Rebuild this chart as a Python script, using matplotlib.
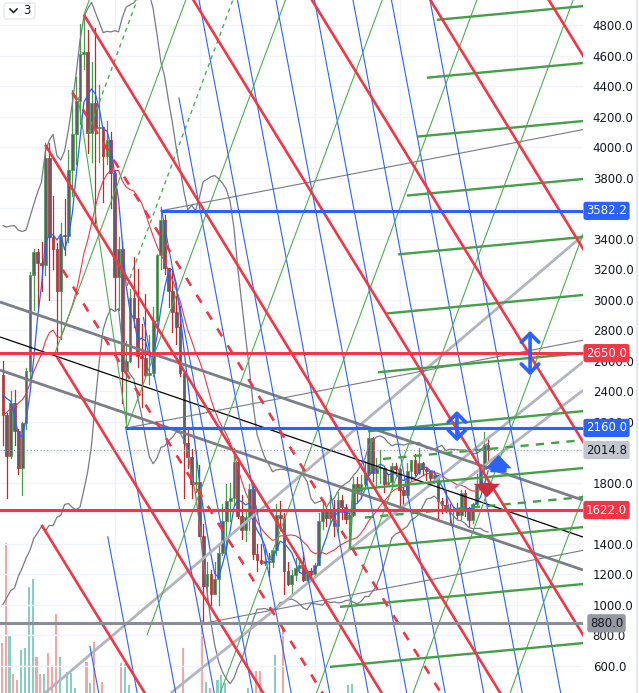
import numpy as np
import pandas as pd
import matplotlib
matplotlib.use("Agg")
import matplotlib.pyplot as plt
import matplotlib.transforms as mtransforms
from matplotlib.patches import Rectangle, FancyBboxPatch, FancyArrowPatch
from matplotlib.lines import Line2D

# ---------------- data (weekly candles, index 0 = first visible week) ----------------
warmup_close = [1315, 1615, 1800, 1935, 1420, 1725, 1795, 1810, 1690, 2080,
                2140, 2240, 2310, 2950, 3910, 3580, 2100, 2400, 2630, 2510]

opens = [2510, 2245, 1975, 2320, 2140, 1895, 2190, 2530, 3160, 3310,
         3240, 3225, 3930, 3410, 3330, 3060, 3420, 3415, 3850, 4085,
         4300, 4610, 4620, 4090, 4290, 4125, 4135, 3940, 4045, 3830,
         3150, 3330, 2530, 2600, 3010, 2880, 2630, 2620, 2510, 2520,
         2860, 3290, 3520, 3210, 3060, 2920, 2820, 2520, 2060, 1970,
         1790, 1805, 1455, 1125, 1200, 1070, 1170, 1340, 1550, 1680,
         1700, 1935, 1580, 1490, 1575, 1760, 1335, 1295, 1275, 1290,
         1280, 1360, 1590, 1570, 1220, 1140, 1195, 1245, 1265, 1165,
         1220, 1200, 1265, 1550, 1630, 1570, 1630, 1515, 1690, 1640,
         1565, 1590, 1790, 1745, 1795, 1860, 2095, 1865, 1895, 1900,
         1795, 1805, 1910, 1890, 1750, 1720, 1875, 1950, 1865, 1930,
         1890, 1880, 1830, 1850, 1680, 1655, 1630, 1615, 1625, 1590,
         1735, 1635, 1555, 1660, 1780, 1890, 2050]
closes = [2245, 1975, 2320, 2140, 1895, 2190, 2530, 3160, 3310, 3240,
          3225, 3930, 3410, 3330, 3060, 3420, 3415, 3850, 4085, 4300,
          4610, 4620, 4090, 4290, 4125, 4135, 3940, 4045, 3830, 3150,
          3330, 2530, 2600, 3010, 2880, 2630, 2620, 2510, 2520, 2860,
          3290, 3520, 3210, 3060, 2920, 2820, 2520, 2060, 1970, 1790,
          1805, 1455, 1125, 1200, 1070, 1170, 1340, 1550, 1680, 1700,
          1935, 1580, 1490, 1575, 1760, 1335, 1295, 1275, 1290, 1280,
          1360, 1590, 1570, 1220, 1140, 1195, 1245, 1265, 1165, 1220,
          1200, 1265, 1550, 1630, 1570, 1630, 1515, 1690, 1640, 1565,
          1590, 1790, 1745, 1795, 1860, 2095, 1865, 1895, 1900, 1795,
          1805, 1910, 1890, 1750, 1720, 1875, 1950, 1865, 1930, 1890,
          1880, 1830, 1850, 1680, 1655, 1630, 1615, 1625, 1590, 1735,
          1635, 1555, 1660, 1780, 1890, 2050, 2015]
highs = [2600, 2260, 2400, 2410, 2150, 2200, 2550, 3180, 3330, 3335,
         3380, 4030, 4030, 3680, 3370, 3500, 3660, 3980, 4375, 4460,
         4810, 4868, 4770, 4560, 4780, 4410, 4135, 4170, 4100, 3850,
         3410, 3380, 2730, 3070, 3280, 3200, 2840, 3040, 2770, 2950,
         3300, 3582, 3555, 3210, 3190, 3025, 2960, 2520, 2160, 2020,
         2010, 1920, 1530, 1280, 1230, 1280, 1390, 1660, 1790, 1800,
         2030, 1960, 1720, 1630, 1790, 1790, 1400, 1400, 1380, 1340,
         1340, 1660, 1680, 1600, 1280, 1230, 1310, 1310, 1350, 1230,
         1240, 1275, 1600, 1680, 1650, 1720, 1690, 1740, 1720, 1660,
         1600, 1840, 1840, 1850, 1945, 2140, 2100, 1960, 2015, 1900,
         1850, 1930, 1930, 1895, 1770, 1930, 1950, 1990, 2030, 1935,
         1900, 1880, 1870, 1850, 1700, 1745, 1660, 1650, 1665, 1750,
         1750, 1640, 1670, 1860, 1890, 2135, 2090]
lows = [2050, 1700, 1960, 2050, 1860, 1720, 2150, 2460, 2930, 2950,
        3060, 3160, 3000, 3200, 2650, 2740, 3290, 3380, 3680, 3890,
        4150, 4510, 3960, 3900, 3500, 3900, 3640, 3890, 3600, 2930,
        2930, 2320, 2160, 2590, 2820, 2560, 2300, 2500, 2450, 2500,
        2820, 3200, 3170, 2950, 2790, 2710, 2500, 1700, 1900, 1700,
        1740, 1450, 880, 1040, 1000, 1070, 1000, 1330, 1360, 1550,
        1660, 1570, 1430, 1420, 1490, 1300, 1220, 1270, 1260, 1190,
        1250, 1330, 1500, 1070, 1130, 1075, 1165, 1220, 1155, 1150,
        1180, 1190, 1260, 1500, 1520, 1530, 1450, 1460, 1560, 1540,
        1370, 1580, 1680, 1700, 1770, 1850, 1810, 1780, 1800, 1740,
        1790, 1760, 1850, 1630, 1625, 1710, 1820, 1850, 1860, 1850,
        1820, 1810, 1800, 1550, 1600, 1610, 1530, 1530, 1570, 1560,
        1580, 1520, 1540, 1650, 1770, 1870, 1935]
volumes = [5.0, 15.0, 5.7, 1.9, 1.3, 4.3, 4.5, 10.6, 11.4, 3.6,
           1.9, 1.9, 4.0, 2.7, 7.9, 3.6, 0.0, 2.1, 2.0, 0.5,
           0.0, 0.0, 3.1, 1.0, 5.1, 0.0, 1.1, 0.0, 0.0, 0.0,
           0.0, 3.0, 2.9, 0.8, 0.0, 0.0, 0.0, 0.0, 0.0, 0.0,
           0.0, 0.0, 0.0, 0.0, 0.0, 0.0, 0.0, 4.5, 0.0, 0.0,
           0.0, 0.0, 7.3, 1.1, 0.5, 0.0, 1.3, 1.8, 1.0, 0.0,
           0.0, 0.0, 0.0, 0.0, 0.5, 0.0, 2.2, 2.2, 0.0, 0.0,
           0.0, 3.8, 0.0, 6.6, 0.0, 0.0, 0.0, 0.0, 0.0, 0.0,
           0.0, 0.0, 0.0, 0.0, 0.0, 0.0, 0.0, 0.0, 0.0, 0.0,
           0.8, 0.9, 0.0, 0.0, 0.0, 0.0, 0.0, 0.0, 0.0, 0.0,
           0.0, 0.0, 0.0, 0.0, 0.0, 0.0, 0.0, 0.0, 0.0, 0.0,
           0.0, 0.0, 0.0, 0.0, 0.0, 0.0, 0.0, 0.0, 0.0, 0.0,
           0.0, 0.0, 0.0, 0.0, 0.0, 0.0, 0.0]

price_ticks = list(range(600, 4801, 200))
hidden_ticks = [3600, 2000, 1600]          # fully covered by the level labels
month_grid_idx = [29, 51.2, 81, 103, 133.5]

# horizontal levels (price, colour, start index)
levels = [(3582.2, '#2962ff', 41), (2650.0, '#f23645', -5), (2160.0, '#2962ff', 32),
          (1622.0, '#f23645', -5), (880.0, '#8a8d96', -5)]
last_price = 2014.8
label_boxes = [(3582.2, '3582.2', '#2962ff', 'white'), (2650.0, '2650.0', '#f23645', 'white'),
               (2160.0, '2160.0', '#2962ff', 'white'), (2014.8, '2014.8', '#c3c6ce', '#131722'),
               (1622.0, '1622.0', '#f23645', 'white'), (880.0, '880.0', '#9598a1', '#131722')]

# red parallel channel (anchor at the top, slope per bar, step between lines)
red_anchor = (21, 4868)
red_slope = -41.1
red_step = 1265
red_offsets = [-3, -2, -1, 0, 1, 2, 3, 4]
red_starts = [10, 14, 11, 21, -5, -5, -5, -5]
red_dash_offsets = [-1.5, -0.5]
red_dash_starts = [15.5, 18]

# blue steep grid
blue_slope = -133.7
blue_top_idx = [-9.1, 0.9, 10.9, 20.9, 30.9, 40.9, 50.9, 60.9, 70.9, 80.9, 90.9, 100.9, 110.9]
blue_boundary = (22.6, 737, 155.5)

# green rising grid
green_slope = 68.1
green_starts = [(21, 4868), (13.5, 2650), (32.2, 2160), (37.4, 803),
                (50.2, 0), (75.2, 0), (100.3, 0), (125.5, 0)]
green_dash_starts = [(22, 4090), (32.2, 3091)]
green_steep = [(19.5, 4328), (32.2, 2166)]

# thick green fan lines (price at right edge, start index)
fan_slope = 2.37
fan_end_prices = [4924, 4551, 4171, 3791, 3411, 3031, 2651, 2270, 1897, 1510, 1137, 750]
fan_start_idx = [112.7, 110.1, 107.5, 104.9, 102.6, 99.7, 97.4, 94.8, 90.9, 90.1, 87.5, 84.9]
fan_dash_end_prices = [2080, 1707]
fan_dash_start_idx = [98.7, 94.0]
fan_link = [(90.1, 1367), (90.9, 1755)]

# thin grey channel (start points) and slope
grey_thin_starts = [(40.8, 3582), (32.2, 2160), (52.2, 880)]
grey_thin_slope = 4.85

# long straight lines (two points each)
thick_grey_lines = [((-0.78, 2985), (150.65, 1687)), ((-0.78, 2539), (150.65, 1229))]
black_line = ((-0.78, 2756), (150.65, 1445))
light_grey_lines = [((10.9, 423), (150.65, 3421)), ((43.6, 423), (150.65, 2592)),
                    ((117.4, 1766), (150.65, 2406))]

# arrows
double_arrows = [(117.9, 2290, 2054), (136.9, 2814, 2487)]
up_arrow = (128.7, 1851, 2002)
down_arrow = (125.7, 1818, 1687)

# ---------------- indicators ----------------
allc = pd.Series(warmup_close + closes, dtype=float)
nw = len(warmup_close)
sma5 = allc.rolling(5).mean().iloc[nw:].values
sma20 = allc.rolling(20).mean()
sd20 = allc.rolling(20).std(ddof=0)
bb_up = (sma20 + 2 * sd20).iloc[nw:].values
bb_lo = (sma20 - 2 * sd20).iloc[nw:].values
sma20 = sma20.iloc[nw:].values

n = len(closes)
idx = np.arange(n)

# ---------------- figure ----------------
W, H = 639, 693
fig = plt.figure(figsize=(W / 100, H / 100), dpi=100, facecolor='white')
rect = [0, 0, 583 / W, 1]
axv = fig.add_axes(rect, zorder=0)
ax = fig.add_axes(rect, zorder=1)
ax.patch.set_visible(False)

XL = (-0.78, 150.65)
YL = (423, 4964)

# volume
vcol = ['#86cfc4' if c >= o else '#f6a5a5' for o, c in zip(opens, closes)]
axv.bar(idx - 0.3, volumes, width=0.55, color=vcol, zorder=1)
axv.set_xlim(*XL)
axv.set_ylim(0, 69.3)
axv.axis('off')

ax.set_xlim(*XL)
ax.set_ylim(*YL)
for s in ax.spines.values():
    s.set_visible(False)
ax.set_xticks([])
ax.yaxis.tick_right()
ax.set_yticks(price_ticks)
ax.set_yticklabels(["" if v in hidden_ticks else f"{v:.1f}" for v in price_ticks])
ax.tick_params(axis='y', length=0, pad=7, labelsize=8.5, labelcolor='#131722')

# grid
for p in range(400, 5001, 200):
    ax.axhline(p, color='#f0f3fa', lw=1, zorder=0)
for gx in month_grid_idx:
    ax.axvline(gx, color='#f0f3fa', lw=1, zorder=0)

XR = 160


def seg(p1, p2, **kw):
    ax.plot([p1[0], p2[0]], [p1[1], p2[1]], solid_capstyle='butt', **kw)


def ray(i0, p0, slope, **kw):
    seg((i0, p0), (XR, p0 + slope * (XR - i0)), **kw)


# long lines
for a, b in light_grey_lines:
    seg(a, b, color='#b2b5be', lw=2.0, zorder=4)
for a, b in thick_grey_lines:
    seg(a, b, color='#7b7e87', lw=2.0, zorder=4)
seg(*black_line, color='black', lw=0.9, zorder=4)
for (i0, p0) in grey_thin_starts:
    ray(i0, p0, grey_thin_slope, color='#787b86', lw=0.8, zorder=4)

# blue grid
bi, bp, bs = blue_boundary
for ti in blue_top_idx:
    i_int = (YL[1] - blue_slope * ti - bp + bs * bi) / (bs - blue_slope)
    p_int = bp + bs * (i_int - bi)
    if p_int > YL[1]:
        i_int, p_int = ti, YL[1]
    i_end = ti + (0 - YL[1]) / blue_slope
    seg((i_int, p_int), (i_end, 0), color='#2962ff', lw=0.8, zorder=4)

# green grid
for (i0, p0) in green_starts:
    i_end = i0 + (5200 - p0) / green_slope
    seg((i0, p0), (i_end, 5200), color='#4caf50', lw=0.8, zorder=4)
for (i0, p0) in green_dash_starts:
    i_end = i0 + (5200 - p0) / green_slope
    seg((i0, p0), (i_end, 5200), color='#4caf50', lw=1.0, dashes=(3, 3), zorder=4)
seg(green_steep[0], green_steep[1], color='#4caf50', lw=0.8, zorder=4)

# green fan
for pe, si in zip(fan_end_prices, fan_start_idx):
    seg((si, pe - fan_slope * (XL[1] - si)), (XR, pe + fan_slope * (XR - XL[1])),
        color='#43a047', lw=1.7, zorder=4)
for pe, si in zip(fan_dash_end_prices, fan_dash_start_idx):
    seg((si, pe - fan_slope * (XL[1] - si)), (XR, pe + fan_slope * (XR - XL[1])),
        color='#43a047', lw=1.7, dashes=(3.5, 3), zorder=4)
seg(fan_link[0], fan_link[1], color='#43a047', lw=1.7, zorder=4)

# red channel
for k, st in zip(red_offsets, red_starts):
    p0 = red_anchor[1] + red_slope * (st - red_anchor[0]) + k * red_step
    ray(st, p0, red_slope, color='#f23645', lw=1.9, zorder=4)
for k, st in zip(red_dash_offsets, red_dash_starts):
    p0 = red_anchor[1] + red_slope * (st - red_anchor[0]) + k * red_step
    ray(st, p0, red_slope, color='#f23645', lw=1.9, dashes=(3.5, 4), zorder=4)

# horizontal levels
for p, c, st in levels:
    seg((st, p), (XR, p), color=c, lw=2.2, zorder=4.5)
ax.axhline(last_price, color='#9598a1', lw=0.8, ls=(0, (1, 2)), zorder=4.5)

# indicators
ax.plot(idx, bb_up, color='#787b86', lw=0.9, zorder=3.6)
ax.plot(idx, bb_lo, color='#787b86', lw=0.9, zorder=3.6)
ax.plot(idx, sma20, color='#f23645', lw=0.8, zorder=3.6)
ax.plot(idx, sma5, color='#2962ff', lw=0.9, zorder=3.6)

# candles
for i, (o, h, l, c) in enumerate(zip(opens, highs, lows, closes)):
    col = '#43a047' if c >= o else '#c62828'
    ax.plot([i, i], [l, h], color=col, lw=0.9, zorder=3)
    lo_b = min(o, c)
    hb = max(abs(c - o), 8)
    ax.add_patch(Rectangle((i - 0.36, lo_b), 0.72, hb, facecolor='#5d606b',
                           edgecolor=col, lw=0.5, zorder=3.2))

# arrows
for (ai, ptop, pbot) in double_arrows:
    ar = FancyArrowPatch((ai, pbot), (ai, ptop), arrowstyle='<->,head_length=0.45,head_width=0.45',
                         mutation_scale=14, color='#2962ff', lw=2.6, zorder=6)
    ax.add_patch(ar)
ua = FancyArrowPatch((up_arrow[0], up_arrow[1]), (up_arrow[0], up_arrow[2]),
                     arrowstyle='simple,head_length=0.75,head_width=1.45,tail_width=0.9',
                     mutation_scale=13, color='#2962ff', lw=0, zorder=6)
ax.add_patch(ua)
da = FancyArrowPatch((down_arrow[0], down_arrow[1]), (down_arrow[0], down_arrow[2]),
                     arrowstyle='simple,head_length=0.75,head_width=1.45,tail_width=0.6',
                     mutation_scale=13, color='#cc2f3c', lw=0, zorder=6)
ax.add_patch(da)

# price labels
trans = mtransforms.blended_transform_factory(ax.transAxes, ax.transData)
for p, txt, bg, fg in label_boxes:
    ax.text(606.5 / 583, p, txt, transform=trans, ha='center', va='center',
            fontsize=8.5, color=fg, zorder=10, clip_on=False,
            bbox=dict(boxstyle='round,pad=0.22,rounding_size=0.2', fc=bg, ec='none'))

# right border
fig.add_artist(Line2D([637 / W, 637 / W], [0, 1], color='#e0e3eb', lw=1.2))

# top-left legend toggle box
fig.add_artist(FancyBboxPatch((4 / W, 1 - 19 / H), 31 / W, 16 / H,
                              boxstyle='round,pad=0,rounding_size=0.004',
                              fc='white', ec='#e0e3eb', lw=0.8, transform=fig.transFigure))
fig.add_artist(Line2D([10 / W, 13.5 / W, 17 / W], [1 - 9 / H, 1 - 12.5 / H, 1 - 9 / H],
                      color='#131722', lw=1.1))
fig.text(23 / W, 1 - 11 / H, '3', fontsize=8.5, color='#131722', va='center', ha='left')

fig.savefig('out.png', dpi=100, facecolor='white')
